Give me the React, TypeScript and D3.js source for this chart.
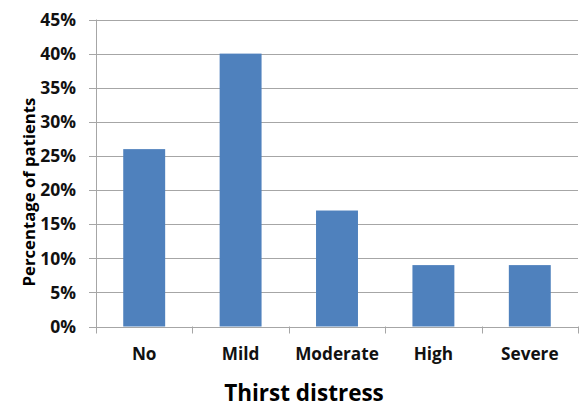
import React from "react";
import * as d3 from "d3";

const categories = ["No", "Mild", "Moderate", "High", "Severe"];
const values = [26, 40, 17, 9, 9];
const yTicks = [0, 5, 10, 15, 20, 25, 30, 35, 40, 45];
const xTitle = "Thirst distress";
const yTitle = "Percentage of patients";

export default function App() {
  const W = 579, H = 408;
  const left = 96, right = 578, top = 19.5, bottom = 326.5;
  const font = "'Open Sans', sans-serif";
  const x = d3.scaleBand<string>().domain(categories).range([left, right]).paddingInner(0.565).paddingOuter(0.2825);
  const band = d3.scaleBand<string>().domain(categories).range([left, right]);
  const y = d3.scaleLinear().domain([0, 45]).range([bottom, top]);
  const grid = "#A6A6A6";
  return (
    <svg width={W} height={H} style={{ position: "absolute", left: 0, top: 0, background: "#fff" }}>
      {yTicks.map((t) => (
        <g key={t}>
          <line x1={left - 7} x2={right} y1={Math.round(y(t)) + 0.5} y2={Math.round(y(t)) + 0.5} stroke={grid} strokeWidth={1} />
          <text x={76} y={y(t)} dy="0.36em" textAnchor="end" fontFamily={font} fontWeight="bold" fontSize={17.5} fill="#111">
            {t}%
          </text>
        </g>
      ))}
      {categories.map((c, i) => (
        <rect key={c} x={x(c)} y={y(values[i])} width={x.bandwidth()} height={bottom - y(values[i])} fill="#4F81BD" />
      ))}
      <line x1={left + 0.5} x2={left + 0.5} y1={top} y2={bottom + 7} stroke={grid} />
      {categories.map((c) => (
        <line key={c} x1={Math.round(band(c)! + band.bandwidth()) + 0.5} x2={Math.round(band(c)! + band.bandwidth()) + 0.5} y1={bottom} y2={bottom + 7} stroke={grid} />
      ))}
      {categories.map((c) => (
        <text key={c} x={band(c)! + band.bandwidth() / 2} y={360} textAnchor="middle" fontFamily={font} fontWeight="bold" fontSize={17.2} fill="#111">
          {c}
        </text>
      ))}
      <text x={304} y={401} textAnchor="middle" fontFamily={font} fontWeight="bold" fontSize={22.5} fill="#000">
        {xTitle}
      </text>
      <text transform={`translate(35,192) rotate(-90)`} textAnchor="middle" fontFamily={font} fontWeight="bold" fontSize={16.7} fill="#000">
        {yTitle}
      </text>
    </svg>
  );
}
